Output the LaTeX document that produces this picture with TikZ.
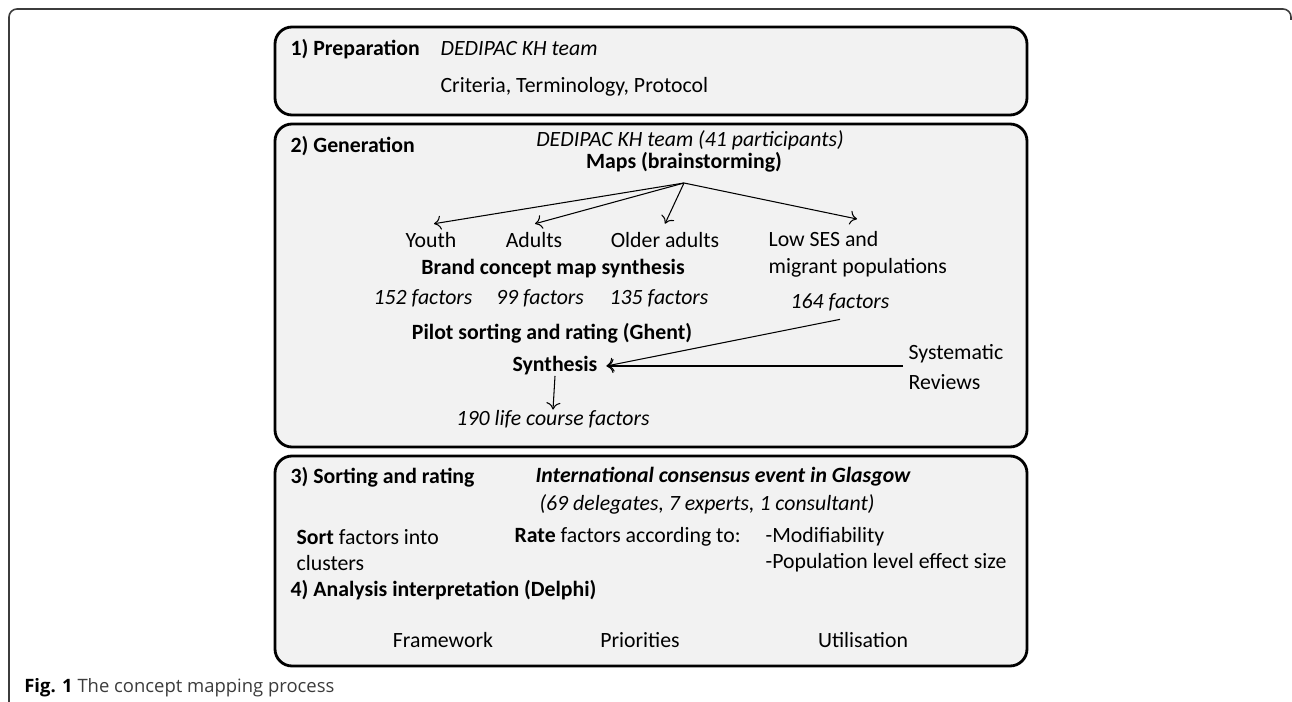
\documentclass[tikz,border=0pt]{standalone}
\usepackage{fontspec}
\setmainfont{Carlito}
\newfontfamily\capfont{Open Sans}
\usetikzlibrary{calc,arrows.meta,positioning}
\definecolor{stagefill}{RGB}{242,242,242}
\definecolor{captext}{RGB}{60,60,60}

\begin{document}
\begin{tikzpicture}[x=0.02cm, y=-0.02cm,
  stage/.style={draw=black, line width=1.6pt, fill=stagefill, rounded corners=0.34cm},
  txt/.style={font=\fontsize{12.4}{15}\selectfont, inner sep=3pt},
  boldtxt/.style={txt, font=\fontsize{12.4}{15}\selectfont\bfseries},
  head/.style={boldtxt, anchor=west},
  flow/.style={line width=0.6pt, -{To[length=4pt,width=8pt]}}]
\useasboundingbox (0,0) rectangle (1292,702);

% outer frame of the figure
\draw[line width=0.9pt, color=captext, rounded corners=0.16cm]
  (1291,20) -- (1291,9) -- (9,9) -- (9,702);

% the stages
\draw[stage] (275,27) rectangle (1027,115);
\draw[stage] (275,124) rectangle (1027,447);
\draw[stage] (275,456) rectangle (1027,666);

% 1) preparation
\node[head] (prep) at (285,49) {1) Preparation};
\node[txt, anchor=west] (prepteam) at (435,49) {\itshape DEDIPAC KH team};
\node[txt, anchor=west] (prepitems) at (435,87) {Criteria, Terminology, Protocol};

% 2) generation
\node[head] (gen) at (285,146) {2) Generation};
\node[txt] (genteam) at (690,140) {\itshape DEDIPAC KH team (41 participants)};
\node[boldtxt] (maps) at (684,162) {Maps (brainstorming)};
\coordinate (fan) at (684,183);

\node[txt] (youth) at (431,240) {Youth};
\node[txt] (adults) at (534,240) {Adults};
\node[txt] (older) at (665,240) {Older adults};
\node[txt, anchor=north west, align=left] (lowses) at (763,226)
  {Low SES and\\migrant populations};

\draw[flow] (fan) -- ($(youth.north)+(3,-3)$);
\draw[flow] (fan) -- ($(adults.north)+(1,-3)$);
\draw[flow] (fan) -- ($(older.north)+(0,-3)$);
\draw[flow] (fan) -- ($(lowses.north west)+(94,-7)$);

\node[boldtxt] (brand) at (553,269) {Brand concept map synthesis};
\node[txt] (f152) at (423,298) {\itshape 152 factors};
\node[txt] (f99) at (540,298) {\itshape 99 factors};
\node[txt] (f135) at (659,298) {\itshape 135 factors};
\node[txt] (f164) at (840,302) {\itshape 164 factors};

\node[boldtxt] (pilot) at (552,333) {Pilot sorting and rating (Ghent)};
\node[boldtxt, inner xsep=5pt] (synth) at (555,366) {Synthesis};
\node[txt, anchor=west, align=left] (sysrev) at (903,367) {Systematic\\[2pt]Reviews};
\node[txt] (life) at (553,419) {\itshape 190 life course factors};

\draw[flow] ($(f164.south)+(0,3)$) -- (synth.east);
\draw[flow] (sysrev.west |- synth.east) -- (synth.east);
\draw[flow] ($(synth.south)+(0,-5)$) -- ($(life.north)+(0,5)$);

% 3) sorting and rating, 4) analysis
\node[head] (sort) at (285,477) {3) Sorting and rating};
\node[boldtxt, font=\fontsize{12.4}{15}\selectfont\bfseries\itshape] (event) at (723,477) {International consensus event in Glasgow};
\node[txt] (people) at (707,504) {\itshape (69 delegates, 7 experts, 1 consultant)};
\node[txt, anchor=west, align=left] (sortinto) at (291,550) {\textbf{Sort} factors into\\clusters};
\node[txt, anchor=west] (rate) at (509,537) {\textbf{Rate} factors according to:};
\node[txt, anchor=west, align=left] (criteria) at (760,550) {-Modifiability\\-Population level effect size};
\node[head] (analysis) at (285,590) {4) Analysis interpretation (Delphi)};
\node[txt] (framework) at (443,640) {Framework};
\node[txt] (priorities) at (640,640) {Priorities};
\node[txt] (utilisation) at (863,640) {Utilisation};

% caption
\node[anchor=west, inner sep=0pt, font=\capfont\fontsize{10.5}{12}\selectfont, text=captext]
  (caption) at (24,688) {\textbf{\color{black}Fig. 1} The concept mapping process};
\end{tikzpicture}
\end{document}
